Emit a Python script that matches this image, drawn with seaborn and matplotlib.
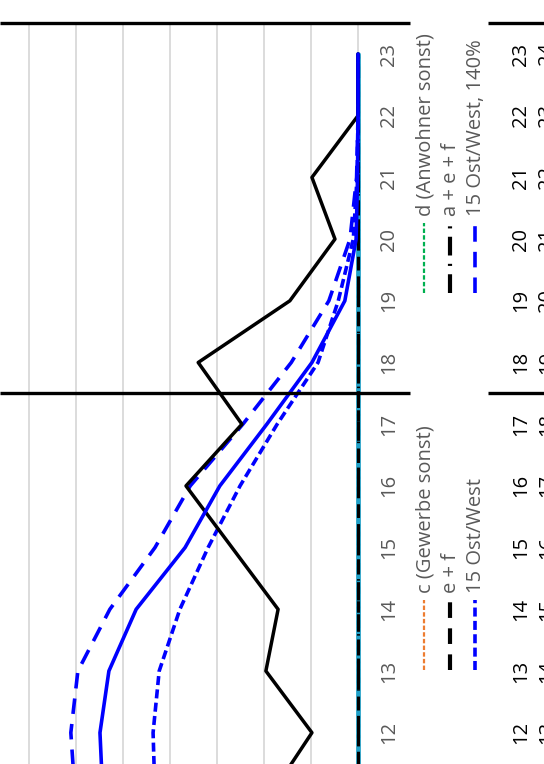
import numpy as np
import pandas as pd
import matplotlib
matplotlib.use("Agg")
import matplotlib.pyplot as plt
import matplotlib.transforms as mtransforms
from matplotlib.lines import Line2D
import seaborn as sns

# --- Daten (Stunden, Werte) ---
hours = [11, 12, 13, 14, 15, 16, 17, 18, 19, 20, 21, 22, 23]
tick_hours = [12, 13, 14, 15, 16, 17, 18, 19, 20, 21, 22, 23]
tick_labels = [str(h) for h in tick_hours]
tick_labels_next = [str(h + 1) for h in tick_hours]
period_bounds = [17.5, 23.5]

d_anwohner = [0.0] * 13
c_gewerbe = [0.0] * 13
b_sonst = [0.0] * 13
aef = [0.0] * 13
ef = [0.0] * 13
ow15 = [4.32, 4.36, 4.23, 3.79, 3.19, 2.51, 1.72, 0.85, 0.42, 0.10, 0.02, 0.0, 0.0]
ow15_140 = [6.02, 6.11, 5.96, 5.28, 4.32, 3.57, 2.45, 1.42, 0.62, 0.17, 0.03, 0.0, 0.0]
summe = [1.85, 0.98, 1.96, 1.70, 2.68, 3.66, 2.47, 3.40, 1.45, 0.49, 0.98, 0.0, 0.0]
ow15_basis = [5.43, 5.49, 5.30, 4.72, 3.68, 2.94, 1.94, 0.98, 0.28, 0.04, 0.01, 0.0, 0.0]

# Reihenfolge = Zeichenreihenfolge
series = [
    ("d (Anwohner sonst)", d_anwohner, "#00b050", (0, (2, 1)), 1.6),
    ("c (Gewerbe sonst)", c_gewerbe, "#ed7d31", (0, (2, 1)), 1.6),
    ("b", b_sonst, "#1fa0c8", "-", 3.4),
    ("a + e + f", aef, "black", (0, (4.5, 2, 0.5, 2)), 2.2),
    ("e + f", ef, "black", (0, (3.75, 2.5)), 2.2),
    ("15 Ost/West", ow15, "blue", (0, (2.5, 1.2)), 2.6),
    ("15 Ost/West, 140%", ow15_140, "blue", (0, (4.3, 2.8)), 2.6),
    ("Summe", summe, "black", "-", 2.5),
    ("15 Ost/West, Basis", ow15_basis, "blue", "-", 2.6),
]

legend_entries = [
    # label, x-Spalte (px), unteres Ende der Linie (px von oben)
    ("c (Gewerbe sonst)", 424, 670),
    ("e + f", 450, 670),
    ("15 Ost/West", 475, 670),
    ("d (Anwohner sonst)", 424, 293),
    ("a + e + f", 450, 293),
    ("15 Ost/West, 140%", 475, 293),
]

sns.set_style("white")
plt.rcParams['font.family'] = ['Open Sans', 'DejaVu Sans']

W, H = 544, 764
fig = plt.figure(figsize=(W / 100, H / 100), dpi=100)

# Achse: Wert 0 bei x=358 px, 47 px je Einheit, Werte wachsen nach links
x0, px_unit = 358, 47
xmin, xmax = -0.1, 8
left_px = x0 - xmax * px_unit
right_px = x0 - xmin * px_unit
y_top, px_hour = 54, 61.7
ylo, yhi = 10.5, 23.5
top_px = y_top - (yhi - 23) * px_hour
bot_px = y_top + (23 - ylo) * px_hour
ax = fig.add_axes([left_px / W, 1 - bot_px / H,
                   (right_px - left_px) / W, (bot_px - top_px) / H])

for name, vals, col, ls, lw in series:
    sns.lineplot(x=vals, y=hours, orient="y", ax=ax, color=col,
                 linestyle=ls, linewidth=lw, errorbar=None, legend=False)

ax.set_xlim(xmax, xmin)
ax.set_ylim(ylo, yhi)
ax.set_xticks(range(0, 9))
ax.grid(axis="x", color="#d9d9d9", linewidth=1.3)
ax.grid(axis="y", visible=False)
ax.set_axisbelow(True)
ax.tick_params(axis="x", bottom=False, labelbottom=False)
ax.set_xlabel("")
ax.set_ylabel("")
for s in ax.spines.values():
    s.set_visible(False)

ax.yaxis.tick_right()
ax.set_yticks(tick_hours)
ax.set_yticklabels(tick_labels)
ax.tick_params(axis="y", length=0, pad=12, labelsize=14.5,
               labelcolor="#595959", labelrotation=90)
for t in ax.get_yticklabels():
    t.set_va("center")

trans = mtransforms.blended_transform_factory(fig.transFigure, ax.transData)
for h, lab, lab2 in zip(tick_hours, tick_labels, tick_labels_next):
    ax.text(511 / W, h, lab, transform=trans, rotation=90, ha="left",
            va="center", fontsize=14.5, color="black", clip_on=False)
    ax.text(537 / W, h, lab2, transform=trans, rotation=90, ha="left",
            va="center", fontsize=14.5, color="black", clip_on=False)

# Trennlinien (unterbrochen durch die Legende)
for hb in period_bounds:
    for xa, xb in [(0, 410), (488, W)]:
        ax.plot([xa / W, xb / W], [hb, hb], transform=trans, color="black",
                linewidth=2.4, solid_capstyle="butt", clip_on=False)

# Legende (gedreht, von Hand)
style = {name: (col, ls, lw) for name, vals, col, ls, lw in series}
for label, lx, ly in legend_entries:
    col, ls, lw = style[label]
    if col == "black":
        lw = 3.0
    fig.add_artist(Line2D([lx / W, lx / W], [1 - ly / H, 1 - (ly - 70) / H],
                          transform=fig.transFigure, color=col, linestyle=ls,
                          linewidth=lw, solid_capstyle="butt"))
    fig.text((lx + 1) / W, 1 - (ly - 77) / H, label, rotation=90,
             ha="center", va="bottom", fontsize=14.5, color="#595959")

fig.savefig("out.png", dpi=100)
